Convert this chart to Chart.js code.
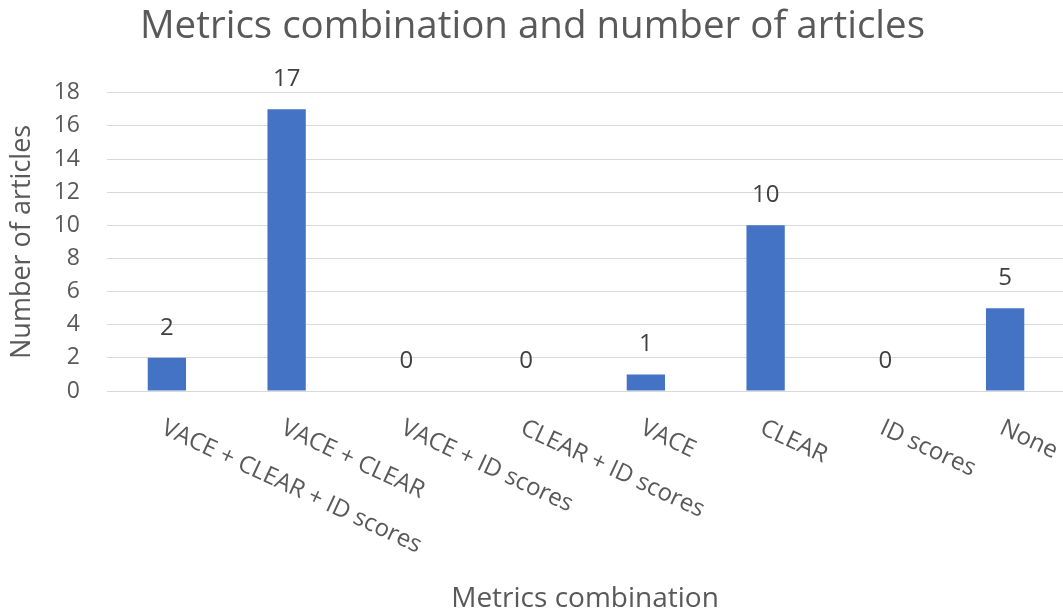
<!DOCTYPE html>
<html>
<head>
<meta charset="utf-8">
<script src="https://cdn.jsdelivr.net/npm/chart.js@4.4.1/dist/chart.umd.min.js"></script>
<style>
  html, body { margin: 0; padding: 0; background: #ffffff; overflow: hidden; }
  #wrap { position: relative; width: 1066px; height: 610px; }
</style>
</head>
<body>
<div id="wrap"><canvas id="chart" width="1066" height="610"></canvas></div>
<script>
// Metric combinations and how many articles used each
const categories = [
  'VACE + CLEAR + ID scores',
  'VACE + CLEAR',
  'VACE + ID scores',
  'CLEAR + ID scores',
  'VACE',
  'CLEAR',
  'ID scores',
  'None'
];
const articleCounts = [2, 17, 0, 0, 1, 10, 0, 5];
const yTicks = [0, 2, 4, 6, 8, 10, 12, 14, 16, 18];
const xAxisTitle = 'Metrics combination';

const TEXT = '#595959';
const FONT = "'Open Sans', 'DejaVu Sans', sans-serif";

// Slanted category labels, starting at each tick and running down to the right,
// plus the horizontal axis title under them
const slantedLabels = {
  id: 'slantedLabels',
  afterDraw(chart) {
    const ctx = chart.ctx;
    const x = chart.scales.x;
    const top = chart.chartArea.bottom + 25;
    ctx.save();
    ctx.fillStyle = TEXT;
    ctx.font = '24px ' + FONT;
    ctx.textAlign = 'left';
    ctx.textBaseline = 'top';
    categories.forEach((label, i) => {
      const px = x.getPixelForTick(i);
      ctx.save();
      ctx.translate(px + 1, top);
      ctx.rotate(25 * Math.PI / 180);
      ctx.fillText(label, 0, 0);
      ctx.restore();
    });
    ctx.font = '28px ' + FONT;
    ctx.textAlign = 'center';
    ctx.textBaseline = 'alphabetic';
    ctx.fillText(xAxisTitle, (x.left + 1063) / 2, 607);
    ctx.restore();
  }
};

// Value printed above each bar
const valueLabels = {
  id: 'valueLabels',
  afterDatasetsDraw(chart) {
    const ctx = chart.ctx;
    const meta = chart.getDatasetMeta(0);
    ctx.save();
    ctx.fillStyle = '#404040';
    ctx.font = '24px ' + FONT;
    ctx.textAlign = 'center';
    ctx.textBaseline = 'middle';
    meta.data.forEach((bar, i) => {
      ctx.fillText(String(articleCounts[i]), bar.x, bar.y - 30);
    });
    ctx.restore();
  }
};

new Chart(document.getElementById('chart'), {
  type: 'bar',
  data: {
    labels: categories,
    datasets: [{
      label: 'Number of articles',
      data: articleCounts,
      backgroundColor: '#4472C4',
      borderWidth: 0,
      categoryPercentage: 1,
      barPercentage: 0.32
    }]
  },
  options: {
    responsive: false,
    animation: false,
    layout: { padding: { left: 0, right: 1, top: 0, bottom: 0 } },
    plugins: {
      legend: { display: false },
      tooltip: { enabled: false },
      title: {
        display: true,
        text: 'Metrics combination and number of articles',
        color: TEXT,
        font: { family: FONT, size: 38.5, weight: 'normal' },
        padding: { top: 4, bottom: 42.6 }
      }
    },
    scales: {
      x: {
        grid: { display: false, drawTicks: false },
        border: { display: true, color: '#d9d9d9', width: 1 },
        ticks: { display: false },
        afterFit(scale) { scale.height = 219; }
      },
      y: {
        min: 0,
        max: 18,
        afterBuildTicks(scale) { scale.ticks = yTicks.map(v => ({ value: v })); },
        grid: { color: '#d9d9d9', lineWidth: 1, drawTicks: false },
        border: { display: false },
        ticks: {
          color: TEXT,
          font: { family: FONT, size: 23 },
          padding: 27
        },
        title: {
          display: true,
          text: 'Number of articles',
          color: TEXT,
          font: { family: FONT, size: 27 },
          padding: { top: 6, bottom: 0 }
        },
        afterFit(scale) { scale.width = 107; }
      }
    }
  },
  plugins: [slantedLabels, valueLabels]
});
</script>
</body>
</html>
